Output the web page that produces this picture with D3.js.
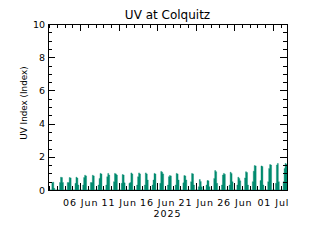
<!DOCTYPE html>
<html>
<head>
<meta charset="utf-8">
<script src="https://cdn.jsdelivr.net/npm/d3@7"></script>
<style>
body { margin: 0; background: #fff; }
text { font-family: "DejaVu Sans", sans-serif; fill: #000; }
</style>
</head>
<body>
<svg width="320" height="240"></svg>
<script>
var svg = d3.select("svg");

// Data
var days = ["2025-06-02","2025-06-03","2025-06-04","2025-06-05","2025-06-06","2025-06-07",
    "2025-06-08","2025-06-09","2025-06-10","2025-06-11","2025-06-12","2025-06-13",
    "2025-06-14","2025-06-15","2025-06-16","2025-06-17","2025-06-18","2025-06-19",
    "2025-06-20","2025-06-21","2025-06-22","2025-06-23","2025-06-24","2025-06-25",
    "2025-06-26","2025-06-27","2025-06-28","2025-06-29","2025-06-30","2025-07-01","2025-07-02"];
var binHours = [8, 11, 14, 17];   // start hour of each 3-hour reading
var uvValues = [
    [0.45, 0.47, 0.1, 0], [0.45, 0.77, 0.75, 0.45], [0.45, 0.45, 0.75, 0.73],
    [0.4, 0.77, 0.72, 0.3], [0.3, 0.75, 0.89, 0.85], [0.45, 0.45, 0.89, 0.85],
    [0.3, 0.7, 1.0, 0.97], [0.3, 0.8, 1.0, 0.9], [0.5, 1.0, 0.97, 0.9],
    [0.4, 0.93, 0.9, 0.43], [0.4, 0.45, 1.03, 0.97], [0.3, 0.8, 1.03, 0.97],
    [0.3, 1.03, 0.97, 0.6], [0.3, 0.6, 1.0, 0.97], [0.4, 1.12, 1.07, 0.97],
    [0.3, 0.8, 0.87, 0.85], [0.3, 1.0, 0.97, 0.6], [0.43, 0.87, 0.85, 0.6],
    [0.5, 1.0, 0.97, 0.3], [0.2, 0.63, 0.51, 0.2], [0.3, 0.57, 0.55, 0.2],
    [0.7, 1.17, 1.1, 0.4], [0.3, 0.9, 1.0, 0.95], [0.3, 1.07, 1.0, 0.5],
    [0.3, 0.77, 0.7, 0.55], [0.73, 1.1, 1.05, 0.3], [0.5, 1.13, 1.47, 1.45],
    [0.57, 1.45, 1.42, 0.3], [0.5, 1.3, 1.53, 1.5], [0.4, 1.5, 1.6, 0.5],
    [0.5, 1.3, 1.6, 1.55]
];
var majorTicks = ["2025-06-06","2025-06-11","2025-06-16","2025-06-21","2025-06-26","2025-07-01"];
var yTicks = [0, 2, 4, 6, 8, 10];
var yMinor = d3.range(0, 10.01, 0.5);

var parse = d3.utcParse("%Y-%m-%d");
var plotL = 48, plotR = 287, plotT = 24, plotB = 190;

var x = d3.scaleUtc()
    .domain([Date.UTC(2025, 5, 1, 20), Date.UTC(2025, 6, 2, 20)])
    .range([plotL, plotR]);
var y = d3.scaleLinear().domain([0, 10]).range([plotB, plotT]);

// Build step points from the readings
var points = [{t: x.domain()[0], v: 0}];
days.forEach(function(d, i) {
    var day = parse(d);
    binHours.forEach(function(h, j) {
        points.push({t: d3.utcHour.offset(day, h), v: uvValues[i][j]});
    });
    points.push({t: d3.utcHour.offset(day, 20), v: 0});
});

var area = d3.area()
    .curve(d3.curveStepAfter)
    .x(function(d) { return x(d.t); })
    .y0(y(0))
    .y1(function(d) { return y(d.v); });

svg.append("path")
    .datum(points)
    .attr("d", area)
    .attr("fill", "#008a6e")
    .attr("stroke", "#008a6e")
    .attr("stroke-width", 0.4);

// Axes
var dayTicks = d3.utcDay.range(parse("2025-06-02"), parse("2025-07-03"));
var majors = majorTicks.map(parse);

function styleAxis(g) {
    g.select(".domain").remove();
    g.selectAll("line").attr("stroke", "#000").attr("shape-rendering", "crispEdges");
    g.selectAll("text").attr("font-family", "DejaVu Sans").attr("fill", "#000");
}

svg.append("g").attr("transform", "translate(0," + plotB + ")")
    .call(d3.axisBottom(x).tickValues(dayTicks).tickSize(-4).tickFormat(""))
    .call(styleAxis);
svg.append("g").attr("transform", "translate(0," + plotB + ")")
    .call(d3.axisBottom(x).tickValues(majors).tickSize(-7).tickPadding(9)
        .tickFormat(d3.utcFormat("%d %b")))
    .call(styleAxis)
    .selectAll("text").attr("font-size", 9.5).attr("letter-spacing", "0.9px");

svg.append("g").attr("transform", "translate(0," + plotT + ")")
    .call(d3.axisTop(x).tickValues(dayTicks).tickSize(-4).tickFormat(""))
    .call(styleAxis);
svg.append("g").attr("transform", "translate(0," + plotT + ")")
    .call(d3.axisTop(x).tickValues(majors).tickSize(-7).tickFormat(""))
    .call(styleAxis);

svg.append("g").attr("transform", "translate(" + plotL + ",0)")
    .call(d3.axisLeft(y).tickValues(yMinor).tickSize(-4).tickFormat(""))
    .call(styleAxis);
svg.append("g").attr("transform", "translate(" + plotL + ",0)")
    .call(d3.axisLeft(y).tickValues(yTicks).tickSize(-7).tickPadding(3).tickFormat(d3.format("d")))
    .call(styleAxis)
    .selectAll("text").attr("font-size", 9.5);

svg.append("g").attr("transform", "translate(" + plotR + ",0)")
    .call(d3.axisRight(y).tickValues(yMinor).tickSize(-4).tickFormat(""))
    .call(styleAxis);
svg.append("g").attr("transform", "translate(" + plotR + ",0)")
    .call(d3.axisRight(y).tickValues(yTicks).tickSize(-7).tickFormat(""))
    .call(styleAxis);

// Frame
svg.append("rect")
    .attr("x", plotL).attr("y", plotT)
    .attr("width", plotR - plotL).attr("height", plotB - plotT)
    .attr("fill", "none").attr("stroke", "#000")
    .attr("shape-rendering", "crispEdges");

// Labels
svg.append("text")
    .attr("x", (plotL + plotR) / 2).attr("y", 19)
    .attr("text-anchor", "middle").attr("font-size", 12)
    .text("UV at Colquitz");

svg.append("text")
    .attr("x", (plotL + plotR) / 2).attr("y", 216.5)
    .attr("text-anchor", "middle").attr("font-size", 9.5).attr("letter-spacing", "0.9px")
    .text("2025");

svg.append("text")
    .attr("transform", "translate(26.5,103) rotate(-90)")
    .attr("text-anchor", "middle").attr("font-size", 8.8)
    .text("UV Index (Index)");
</script>
</body>
</html>
